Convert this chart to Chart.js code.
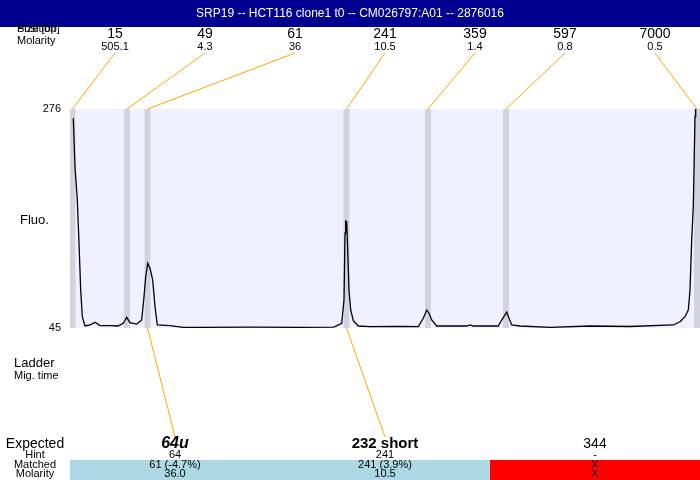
<!DOCTYPE html>
<html>
<head>
<meta charset="utf-8">
<script src="https://cdn.jsdelivr.net/npm/chart.js@4/dist/chart.umd.min.js"></script>
<style>
  html, body { margin: 0; padding: 0; background: #fff; }
  #wrap { width: 700px; height: 480px; }
</style>
</head>
<body>
<div id="wrap"><canvas id="myChart" width="700" height="480"></canvas></div>
<script>
const title = "SRP19 -- HCT116 clone1 t0 -- CM026797:A01 -- 2876016";

// ladder peaks (size in bp, molarity, migration position)
const ladderSizes = ["15", "49", "61", "241", "359", "597", "7000"];
const ladderMolarity = ["505.1", "4.3", "36", "10.5", "1.4", "0.8", "0.5"];
const ladderPos = [2.5, 57, 77.5, 276.5, 358, 436, 627];

// electropherogram trace
const migTime = [3.3, 5, 7.3, 9, 10.7, 12.3, 15, 20, 25, 30, 40, 48, 53.3, 56.7, 60, 66.7,
  71.7, 74, 75.7, 77.7, 80, 82.7, 85, 87.3, 100, 113.3, 130, 180, 230, 263, 265, 271.7,
  274, 275, 275.7, 276.7, 277.7, 279, 280.7, 283.3, 288.3, 300, 330, 348.3, 353.3, 356.7,
  359, 361.7, 366.7, 396.7, 400, 403, 428.3, 431.7, 436.7, 441.7, 450, 480, 520, 560,
  603.3, 610, 615, 618.3, 620, 621.7, 623.3, 624, 625, 625.7];
const fluo = [266.2, 215.1, 180, 134.7, 85.1, 56.9, 47.1, 48.2, 51, 47.6, 47.6, 47.1, 50, 56.3, 50.6, 49.2,
  53.4, 78, 99.1, 113.2, 108, 95.6, 67.5, 48.2, 47.6, 45.7, 45.7, 46, 45.7, 46, 46.4, 50,
  74.5, 145.2, 157.9, 157.1, 127.3, 85.1, 64, 52.7, 47.1, 46.4, 46.6, 46.4, 55.2, 64,
  60.5, 53.4, 47.1, 47.1, 48.2, 47.1, 47.1, 53.4, 61.6, 48.2, 47.1, 45.7, 47.1, 46.6,
  48.2, 51.6, 56.9, 64, 85.1, 137.8, 172.9, 211.7, 267.9, 276];

const yTicks = [45, 276];

// expected fragments
const expected = ["64u", "232 short", "344"];
const hints = ["64", "241", "-"];
const matched = ["61 (-4.7%)", "241 (3.9%)", "X"];
const matchedMolarity = ["36.0", "10.5", "X"];
const matchedPos = [77.5, 276.5, null];
const matchStatus = ["ok", "ok", "missing"];

const FONT = '"Liberation Sans", Arial, sans-serif';
const ORANGE = "#FFA500";
const expectedStyle = ["italic bold 16px", "bold 15px", "14px"];
const statusColor = { ok: "#ADD8E6", missing: "#FF0000" };

const text = (ctx, str, x, y, font, align) => {
  ctx.font = font + " " + FONT;
  ctx.textAlign = align || "center";
  ctx.textBaseline = "middle";
  ctx.fillText(str, x, y);
};

const decor = {
  id: "decor",
  beforeDatasetsDraw(chart) {
    const { ctx, chartArea: a, scales } = chart;
    ctx.save();
    ctx.fillStyle = "#F0F0FE";
    ctx.fillRect(a.left, a.top, a.right - a.left, a.bottom - a.top);
    ctx.fillStyle = "#D3D3E0";
    ladderPos.forEach((p) => {
      const x0 = Math.max(a.left, scales.x.getPixelForValue(p - 3));
      const x1 = Math.min(a.right, scales.x.getPixelForValue(p + 3));
      ctx.fillRect(x0, a.top, x1 - x0, a.bottom - a.top);
    });
    ctx.restore();
  },
  afterDraw(chart) {
    const { ctx, chartArea: a, scales } = chart;
    const w = a.right - a.left;
    ctx.save();

    // title bar
    ctx.fillStyle = "#000090";
    ctx.fillRect(0, 0, chart.width, 27);
    ctx.fillStyle = "#fff";
    text(ctx, title, chart.width / 2, 14, "12px");

    // row labels
    ctx.fillStyle = "#000";
    text(ctx, "Size [bp]", 17, 29, "11px", "left");
    text(ctx, "Position", 17, 29, "11px", "left");
    text(ctx, "Molarity", 17, 41, "11px", "left");
    text(ctx, "Fluo.", 20, 220, "13px", "left");
    text(ctx, "Ladder", 14, 363, "13px", "left");
    text(ctx, "Mig. time", 14, 376, "11px", "left");
    text(ctx, "Expected", 35, 444, "14px");
    text(ctx, "Hint", 35, 455, "11px");
    text(ctx, "Matched", 35, 465, "11px");
    text(ctx, "Molarity", 35, 474, "11px");

    // ladder labels + connectors
    const colW = w / ladderSizes.length;
    ladderSizes.forEach((s, i) => {
      const cx = a.left + colW * (i + 0.5);
      ctx.fillStyle = "#000";
      text(ctx, s, cx, 34, "14px");
      text(ctx, ladderMolarity[i], cx, 47, "11px");
      ctx.strokeStyle = ORANGE;
      ctx.lineWidth = 1;
      ctx.beginPath();
      ctx.moveTo(cx, 53);
      ctx.lineTo(scales.x.getPixelForValue(ladderPos[i]), a.top);
      ctx.stroke();
    });

    // expected fragments table
    const colE = w / expected.length;
    expected.forEach((e, i) => {
      const x0 = a.left + colE * i;
      const cx = x0 + colE / 2;
      ctx.fillStyle = statusColor[matchStatus[i]];
      ctx.fillRect(x0, 460, colE, 20);
      if (matchedPos[i] !== null) {
        ctx.strokeStyle = ORANGE;
        ctx.lineWidth = 1;
        ctx.beginPath();
        ctx.moveTo(scales.x.getPixelForValue(matchedPos[i]), a.bottom);
        ctx.lineTo(cx, 437);
        ctx.stroke();
      }
      ctx.fillStyle = "#000";
      text(ctx, e, cx, 444, expectedStyle[i]);
      text(ctx, hints[i], cx, 455, "11px");
      text(ctx, matched[i], cx, 465, "11px");
      text(ctx, matchedMolarity[i], cx, 474, "11px");
    });
    ctx.restore();
  },
};

new Chart(document.getElementById("myChart"), {
  type: "line",
  data: {
    datasets: [
      {
        data: migTime.map((t, i) => ({ x: t, y: fluo[i] })),
        borderColor: "#000",
        borderWidth: 1.3,
        pointRadius: 0,
        tension: 0,
        fill: false,
      },
    ],
  },
  options: {
    responsive: false,
    animation: false,
    layout: { padding: { top: 109, bottom: 152, left: 0, right: 0 } },
    plugins: { legend: { display: false }, tooltip: { enabled: false } },
    scales: {
      x: { type: "linear", min: 0, max: 630, display: false },
      y: {
        min: 45,
        max: 276,
        grid: { display: false },
        border: { display: false },
        afterFit: (scale) => {
          scale.width = 70;
        },
        afterBuildTicks: (scale) => {
          scale.ticks = yTicks.map((v) => ({ value: v }));
        },
        ticks: {
          color: "#000",
          padding: 1,
          font: { family: FONT, size: 11 },
        },
      },
    },
  },
  plugins: [decor],
});
</script>
</body>
</html>
